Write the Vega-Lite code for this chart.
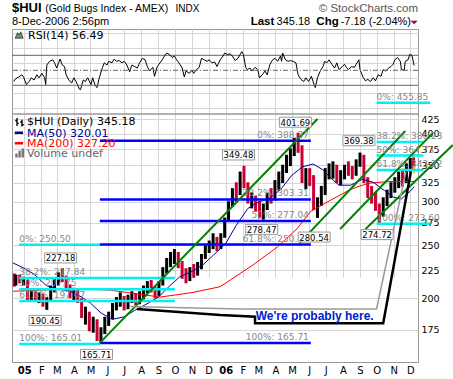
{
"$schema": "https://vega.github.io/schema/vega-lite/v6.json",
"width": 406, "height": 333,
"autosize": {"type": "none"},
"padding": {"left": 12, "top": 29, "right": 35, "bottom": 17},
"background": "white",
"config": {"view": {"stroke": "#999", "strokeWidth": 1}, "font": "DejaVu Sans"},
"datasets": {
"bars": [
{"date":"2004-12-14","lo":210,"hi":222,"op":220,"cl":212},
{"date":"2004-12-17","lo":211,"hi":221,"op":212,"cl":219},
{"date":"2004-12-24","lo":213,"hi":221,"op":219,"cl":215},
{"date":"2004-12-31","lo":211,"hi":219,"op":215,"cl":217},
{"date":"2005-01-07","lo":198,"hi":216,"op":215,"cl":201},
{"date":"2005-01-14","lo":197,"hi":206,"op":201,"cl":203},
{"date":"2005-01-21","lo":198,"hi":206,"op":203,"cl":200},
{"date":"2005-01-28","lo":196,"hi":205,"op":200,"cl":202},
{"date":"2005-02-04","lo":193,"hi":204,"op":202,"cl":196},
{"date":"2005-02-11","lo":190.45,"hi":201,"op":196,"cl":199},
{"date":"2005-02-18","lo":197,"hi":211,"op":199,"cl":209},
{"date":"2005-02-25","lo":205,"hi":218,"op":209,"cl":215},
{"date":"2005-03-04","lo":211,"hi":223,"op":215,"cl":220},
{"date":"2005-03-11","lo":214,"hi":227.18,"op":220,"cl":217},
{"date":"2005-03-18","lo":207,"hi":220,"op":217,"cl":209},
{"date":"2005-03-25","lo":200,"hi":212,"op":209,"cl":203},
{"date":"2005-04-01","lo":198,"hi":209,"op":203,"cl":206},
{"date":"2005-04-08","lo":196,"hi":208,"op":206,"cl":199},
{"date":"2005-04-15","lo":184,"hi":200,"op":199,"cl":186},
{"date":"2005-04-22","lo":179,"hi":193,"op":186,"cl":189},
{"date":"2005-04-29","lo":174,"hi":189,"op":189,"cl":176},
{"date":"2005-05-06","lo":173,"hi":185,"op":176,"cl":182},
{"date":"2005-05-13","lo":167,"hi":183,"op":182,"cl":170},
{"date":"2005-05-20","lo":165.71,"hi":177,"op":170,"cl":175},
{"date":"2005-05-27","lo":172,"hi":185,"op":175,"cl":183},
{"date":"2005-06-03","lo":178,"hi":189,"op":183,"cl":186},
{"date":"2005-06-10","lo":183,"hi":196,"op":186,"cl":194},
{"date":"2005-06-17","lo":190,"hi":201,"op":194,"cl":199},
{"date":"2005-06-24","lo":193,"hi":205,"op":199,"cl":201},
{"date":"2005-07-01","lo":190,"hi":202,"op":201,"cl":194},
{"date":"2005-07-08","lo":191,"hi":203,"op":194,"cl":201},
{"date":"2005-07-15","lo":196,"hi":206,"op":201,"cl":203},
{"date":"2005-07-22","lo":194,"hi":204,"op":203,"cl":197},
{"date":"2005-07-29","lo":195,"hi":206,"op":197,"cl":204},
{"date":"2005-08-05","lo":199,"hi":211,"op":204,"cl":208},
{"date":"2005-08-12","lo":204,"hi":215,"op":208,"cl":212},
{"date":"2005-08-19","lo":205,"hi":216,"op":212,"cl":208},
{"date":"2005-08-26","lo":200,"hi":210,"op":208,"cl":204},
{"date":"2005-09-02","lo":202,"hi":215,"op":204,"cl":213},
{"date":"2005-09-09","lo":211,"hi":228,"op":213,"cl":226},
{"date":"2005-09-16","lo":222,"hi":237,"op":226,"cl":234},
{"date":"2005-09-23","lo":228,"hi":243,"op":234,"cl":238},
{"date":"2005-09-30","lo":231,"hi":246,"op":238,"cl":242},
{"date":"2005-10-07","lo":227,"hi":243,"op":242,"cl":231},
{"date":"2005-10-14","lo":217,"hi":234,"op":231,"cl":221},
{"date":"2005-10-21","lo":213,"hi":227,"op":221,"cl":218},
{"date":"2005-10-28","lo":215,"hi":228,"op":218,"cl":225},
{"date":"2005-11-04","lo":218,"hi":231,"op":225,"cl":222},
{"date":"2005-11-11","lo":220,"hi":233,"op":222,"cl":230},
{"date":"2005-11-18","lo":226,"hi":241,"op":230,"cl":239},
{"date":"2005-11-25","lo":236,"hi":250,"op":239,"cl":247},
{"date":"2005-12-02","lo":242,"hi":255,"op":247,"cl":251},
{"date":"2005-12-09","lo":246,"hi":263,"op":251,"cl":258},
{"date":"2005-12-16","lo":244,"hi":259,"op":258,"cl":248},
{"date":"2005-12-23","lo":246,"hi":263,"op":248,"cl":261},
{"date":"2005-12-30","lo":258,"hi":281,"op":261,"cl":279},
{"date":"2006-01-06","lo":276,"hi":301,"op":279,"cl":298},
{"date":"2006-01-13","lo":294,"hi":318,"op":298,"cl":314},
{"date":"2006-01-20","lo":300,"hi":326,"op":314,"cl":309},
{"date":"2006-01-27","lo":309,"hi":341,"op":309,"cl":338},
{"date":"2006-02-03","lo":318,"hi":349.48,"op":338,"cl":322},
{"date":"2006-02-10","lo":298,"hi":326,"op":322,"cl":302},
{"date":"2006-02-17","lo":292,"hi":313,"op":302,"cl":305},
{"date":"2006-02-24","lo":288,"hi":308,"op":305,"cl":294},
{"date":"2006-03-03","lo":280,"hi":301,"op":294,"cl":285},
{"date":"2006-03-10","lo":278.47,"hi":298,"op":285,"cl":295},
{"date":"2006-03-17","lo":290,"hi":312,"op":295,"cl":308},
{"date":"2006-03-24","lo":298,"hi":318,"op":308,"cl":303},
{"date":"2006-03-31","lo":302,"hi":329,"op":303,"cl":325},
{"date":"2006-04-07","lo":315,"hi":341,"op":325,"cl":333},
{"date":"2006-04-14","lo":325,"hi":351,"op":333,"cl":346},
{"date":"2006-04-21","lo":339,"hi":366,"op":346,"cl":358},
{"date":"2006-04-28","lo":349,"hi":376,"op":358,"cl":370},
{"date":"2006-05-05","lo":364,"hi":393,"op":370,"cl":388},
{"date":"2006-05-12","lo":369,"hi":401.69,"op":388,"cl":374},
{"date":"2006-05-19","lo":325,"hi":381,"op":374,"cl":334},
{"date":"2006-05-26","lo":317,"hi":346,"op":334,"cl":339},
{"date":"2006-06-02","lo":321,"hi":346,"op":339,"cl":330},
{"date":"2006-06-09","lo":290,"hi":336,"op":330,"cl":298},
{"date":"2006-06-16","lo":280.54,"hi":306,"op":298,"cl":303},
{"date":"2006-06-23","lo":295,"hi":321,"op":303,"cl":313},
{"date":"2006-06-30","lo":309,"hi":346,"op":313,"cl":341},
{"date":"2006-07-07","lo":330,"hi":353,"op":341,"cl":346},
{"date":"2006-07-14","lo":331,"hi":356,"op":346,"cl":350},
{"date":"2006-07-21","lo":325,"hi":351,"op":350,"cl":332},
{"date":"2006-07-28","lo":322,"hi":343,"op":332,"cl":337},
{"date":"2006-08-04","lo":330,"hi":351,"op":337,"cl":346},
{"date":"2006-08-11","lo":335,"hi":356,"op":346,"cl":340},
{"date":"2006-08-18","lo":330,"hi":349,"op":340,"cl":338},
{"date":"2006-08-25","lo":335,"hi":359,"op":338,"cl":353},
{"date":"2006-09-01","lo":348,"hi":369.38,"op":353,"cl":362},
{"date":"2006-09-08","lo":325,"hi":366,"op":362,"cl":330},
{"date":"2006-09-15","lo":305,"hi":333,"op":330,"cl":311},
{"date":"2006-09-22","lo":298,"hi":321,"op":311,"cl":305},
{"date":"2006-09-29","lo":289,"hi":313,"op":305,"cl":294},
{"date":"2006-10-06","lo":274.72,"hi":298,"op":294,"cl":285},
{"date":"2006-10-13","lo":282,"hi":306,"op":285,"cl":301},
{"date":"2006-10-20","lo":295,"hi":316,"op":301,"cl":310},
{"date":"2006-10-27","lo":305,"hi":326,"op":310,"cl":321},
{"date":"2006-11-03","lo":312,"hi":333,"op":321,"cl":327},
{"date":"2006-11-10","lo":318,"hi":341,"op":327,"cl":336},
{"date":"2006-11-17","lo":320,"hi":345,"op":336,"cl":326},
{"date":"2006-11-24","lo":325,"hi":353,"op":326,"cl":349},
{"date":"2006-12-01","lo":340,"hi":361,"op":349,"cl":356},
{"date":"2006-12-07","lo":342,"hi":362,"op":356,"cl":345.18}
],
"ma50": [
{"date":"2004-12-12","v":232},{"date":"2005-01-01","v":227},{"date":"2005-01-20","v":221},{"date":"2005-02-10","v":211},
{"date":"2005-03-01","v":208},{"date":"2005-03-25","v":206},{"date":"2005-04-15","v":201},{"date":"2005-05-01","v":196},
{"date":"2005-05-20","v":188},{"date":"2005-06-10","v":183},{"date":"2005-07-01","v":185},{"date":"2005-07-20","v":190},
{"date":"2005-08-10","v":195},{"date":"2005-09-01","v":201},{"date":"2005-09-20","v":210},{"date":"2005-10-10","v":219},
{"date":"2005-11-01","v":224},{"date":"2005-11-20","v":230},{"date":"2005-12-10","v":240},{"date":"2006-01-01","v":252},
{"date":"2006-01-20","v":272},{"date":"2006-02-10","v":292},{"date":"2006-03-01","v":300},{"date":"2006-03-20","v":304},
{"date":"2006-04-10","v":316},{"date":"2006-05-01","v":336},{"date":"2006-05-20","v":348},{"date":"2006-06-08","v":352},
{"date":"2006-06-25","v":344},{"date":"2006-07-10","v":332},{"date":"2006-07-25","v":322},{"date":"2006-08-15","v":322},
{"date":"2006-09-05","v":330},{"date":"2006-09-25","v":326},{"date":"2006-10-15","v":315},{"date":"2006-11-01","v":306},
{"date":"2006-11-15","v":304},{"date":"2006-12-01","v":314},{"date":"2006-12-08","v":320.01}
],
"ma200": [
{"date":"2004-12-12","v":206},{"date":"2005-02-04","v":207},{"date":"2005-04-07","v":208},{"date":"2005-06-05","v":207},
{"date":"2005-08-04","v":203},{"date":"2005-09-04","v":201},{"date":"2005-10-05","v":203},{"date":"2005-11-03","v":205},
{"date":"2005-12-22","v":210},{"date":"2006-02-19","v":230},{"date":"2006-04-04","v":248},{"date":"2006-05-10","v":268},
{"date":"2006-06-03","v":288},{"date":"2006-07-09","v":302},{"date":"2006-08-14","v":316},{"date":"2006-09-01","v":321},
{"date":"2006-09-19","v":325},{"date":"2006-10-25","v":327},{"date":"2006-12-08","v":327.2}
],
"rsi": [
{"date":"2004-12-13","rsi":35},{"date":"2004-12-17","rsi":39},{"date":"2004-12-22","rsi":41},{"date":"2004-12-28","rsi":44},
{"date":"2004-12-31","rsi":41},{"date":"2005-01-05","rsi":31},{"date":"2005-01-10","rsi":35},{"date":"2005-01-14","rsi":40},
{"date":"2005-01-19","rsi":37},{"date":"2005-01-24","rsi":44},{"date":"2005-01-28","rsi":40},{"date":"2005-02-02","rsi":46},
{"date":"2005-02-07","rsi":40},{"date":"2005-02-09","rsi":31},{"date":"2005-02-11","rsi":57},{"date":"2005-02-16","rsi":62},
{"date":"2005-02-22","rsi":64},{"date":"2005-02-25","rsi":60},{"date":"2005-03-01","rsi":53},{"date":"2005-03-07","rsi":65},
{"date":"2005-03-11","rsi":57},{"date":"2005-03-15","rsi":55},{"date":"2005-03-18","rsi":44},{"date":"2005-03-23","rsi":37},
{"date":"2005-03-28","rsi":33},{"date":"2005-04-01","rsi":40},{"date":"2005-04-05","rsi":35},{"date":"2005-04-11","rsi":25},
{"date":"2005-04-13","rsi":24},{"date":"2005-04-18","rsi":37},{"date":"2005-04-22","rsi":35},{"date":"2005-04-26","rsi":40},
{"date":"2005-05-02","rsi":31},{"date":"2005-05-05","rsi":40},{"date":"2005-05-10","rsi":29},{"date":"2005-05-13","rsi":27},
{"date":"2005-05-17","rsi":40},{"date":"2005-05-23","rsi":54},{"date":"2005-05-26","rsi":60},{"date":"2005-05-31","rsi":57},
{"date":"2005-06-03","rsi":62},{"date":"2005-06-09","rsi":60},{"date":"2005-06-13","rsi":65},{"date":"2005-06-17","rsi":62},
{"date":"2005-06-22","rsi":63},{"date":"2005-06-27","rsi":60},{"date":"2005-07-01","rsi":62},{"date":"2005-07-06","rsi":57},
{"date":"2005-07-11","rsi":48},{"date":"2005-07-15","rsi":57},{"date":"2005-07-20","rsi":55},{"date":"2005-07-25","rsi":53},
{"date":"2005-07-29","rsi":60},{"date":"2005-08-03","rsi":66},{"date":"2005-08-08","rsi":64},{"date":"2005-08-12","rsi":55},
{"date":"2005-08-16","rsi":49},{"date":"2005-08-22","rsi":54},{"date":"2005-08-25","rsi":42},{"date":"2005-08-30","rsi":55},
{"date":"2005-09-02","rsi":58},{"date":"2005-09-08","rsi":64},{"date":"2005-09-12","rsi":69},{"date":"2005-09-16","rsi":73},
{"date":"2005-09-21","rsi":71},{"date":"2005-09-26","rsi":67},{"date":"2005-09-30","rsi":69},{"date":"2005-10-04","rsi":64},
{"date":"2005-10-10","rsi":58},{"date":"2005-10-14","rsi":53},{"date":"2005-10-18","rsi":41},{"date":"2005-10-21","rsi":49},
{"date":"2005-10-27","rsi":46},{"date":"2005-11-01","rsi":50},{"date":"2005-11-04","rsi":46},{"date":"2005-11-09","rsi":51},
{"date":"2005-11-14","rsi":54},{"date":"2005-11-18","rsi":66},{"date":"2005-11-23","rsi":64},{"date":"2005-11-28","rsi":62},
{"date":"2005-12-02","rsi":64},{"date":"2005-12-07","rsi":60},{"date":"2005-12-12","rsi":61},{"date":"2005-12-16","rsi":55},
{"date":"2005-12-22","rsi":64},{"date":"2005-12-27","rsi":69},{"date":"2005-12-30","rsi":73},{"date":"2006-01-04","rsi":71},
{"date":"2006-01-09","rsi":72},{"date":"2006-01-13","rsi":69},{"date":"2006-01-18","rsi":63},{"date":"2006-01-23","rsi":66},
{"date":"2006-01-27","rsi":71},{"date":"2006-01-30","rsi":75},{"date":"2006-02-02","rsi":71},{"date":"2006-02-06","rsi":54},
{"date":"2006-02-09","rsi":51},{"date":"2006-02-14","rsi":53},{"date":"2006-02-17","rsi":49},{"date":"2006-02-23","rsi":54},
{"date":"2006-02-28","rsi":51},{"date":"2006-03-03","rsi":40},{"date":"2006-03-08","rsi":44},{"date":"2006-03-13","rsi":49},
{"date":"2006-03-17","rsi":44},{"date":"2006-03-22","rsi":58},{"date":"2006-03-27","rsi":64},{"date":"2006-03-31","rsi":66},
{"date":"2006-04-05","rsi":62},{"date":"2006-04-10","rsi":69},{"date":"2006-04-12","rsi":62},{"date":"2006-04-14","rsi":73},
{"date":"2006-04-19","rsi":64},{"date":"2006-04-24","rsi":62},{"date":"2006-04-28","rsi":63},{"date":"2006-05-03","rsi":62},
{"date":"2006-05-08","rsi":60},{"date":"2006-05-12","rsi":44},{"date":"2006-05-17","rsi":38},{"date":"2006-05-22","rsi":35},
{"date":"2006-05-26","rsi":40},{"date":"2006-05-31","rsi":35},{"date":"2006-06-05","rsi":42},{"date":"2006-06-09","rsi":33},
{"date":"2006-06-12","rsi":27},{"date":"2006-06-16","rsi":40},{"date":"2006-06-21","rsi":49},{"date":"2006-06-26","rsi":55},
{"date":"2006-06-29","rsi":62},{"date":"2006-07-03","rsi":60},{"date":"2006-07-07","rsi":64},{"date":"2006-07-12","rsi":58},
{"date":"2006-07-17","rsi":53},{"date":"2006-07-21","rsi":60},{"date":"2006-07-25","rsi":51},{"date":"2006-07-31","rsi":55},
{"date":"2006-08-04","rsi":58},{"date":"2006-08-08","rsi":53},{"date":"2006-08-11","rsi":51},{"date":"2006-08-17","rsi":55},
{"date":"2006-08-22","rsi":54},{"date":"2006-08-25","rsi":58},{"date":"2006-08-30","rsi":64},{"date":"2006-09-01","rsi":51},
{"date":"2006-09-07","rsi":40},{"date":"2006-09-11","rsi":36},{"date":"2006-09-15","rsi":38},{"date":"2006-09-20","rsi":35},
{"date":"2006-09-25","rsi":40},{"date":"2006-09-29","rsi":36},{"date":"2006-10-04","rsi":44},{"date":"2006-10-09","rsi":42},
{"date":"2006-10-13","rsi":51},{"date":"2006-10-17","rsi":49},{"date":"2006-10-23","rsi":53},{"date":"2006-10-27","rsi":55},
{"date":"2006-10-31","rsi":58},{"date":"2006-11-03","rsi":64},{"date":"2006-11-08","rsi":67},{"date":"2006-11-13","rsi":62},
{"date":"2006-11-15","rsi":51},{"date":"2006-11-20","rsi":50},{"date":"2006-11-22","rsi":62},{"date":"2006-11-27","rsi":64},
{"date":"2006-11-30","rsi":71},{"date":"2006-12-04","rsi":70},{"date":"2006-12-08","rsi":56.49}
],
"fibCyanL": [
{"date":"2004-12-23","end":"2005-05-18","level":250.50,"label":"0%: 250.50"},
{"date":"2004-12-23","end":"2005-10-01","level":217.84,"label":"38.2%: 217.84"},
{"date":"2004-12-23","end":"2005-10-01","level":207.75,"label":"50%: 207.75"},
{"date":"2004-12-23","end":"2005-10-01","level":197.67,"label":"61.8%: 197.67"},
{"date":"2004-12-23","end":"2005-05-18","level":165.01,"label":"100%: 165.01"}
],
"fibBlue": [
{"date":"2005-05-18","end":"2006-06-04","level":388.37,"label":"0%: 388.37"},
{"date":"2005-05-18","end":"2006-06-04","level":303.31,"label":"38.2%: 303.31"},
{"date":"2005-05-18","end":"2006-06-04","level":277.04,"label":"50%: 277.04"},
{"date":"2005-05-18","end":"2006-06-04","level":250.73,"label":"61.8%: 250.73"},
{"date":"2005-05-18","end":"2006-06-04","level":165.71,"label":"100%: 165.71"}
],
"fibCyanR": [
{"date":"2006-10-01","end":"2007-01-06","level":455.85,"label":"0%: 455.85"},
{"date":"2006-10-01","end":"2006-12-25","level":386.23,"label":"38.2%: 386.23"},
{"date":"2006-10-01","end":"2006-12-25","level":364.73,"label":"50%: 364.73"},
{"date":"2006-10-01","end":"2006-12-25","level":343.22,"label":"61.8%: 343.22"},
{"date":"2006-10-01","end":"2007-01-06","level":273.60,"label":"100%: 273.60"}
],
"trend": [
{"id":1,"date":"2005-05-18","price":165.7},{"id":1,"date":"2006-06-16","price":425.5},
{"id":2,"date":"2006-05-15","price":252.5},{"id":2,"date":"2006-11-22","price":404.6},
{"id":3,"date":"2006-07-27","price":267.8},{"id":3,"date":"2007-01-11","price":401.3},
{"id":4,"date":"2006-09-11","price":267.8},{"id":4,"date":"2007-02-16","price":381.5}
],
"callBlack": [
{"i":1,"date":"2005-07-24","price":191.2},{"i":2,"date":"2005-12-22","price":186.4},
{"i":3,"date":"2006-02-23","price":185.1},{"i":4,"date":"2006-02-23","price":180.0},
{"i":5,"date":"2006-10-13","price":180.0},{"i":6,"date":"2006-12-02","price":340.4}
],
"callGray": [
{"i":1,"date":"2005-07-12","price":193.1},{"i":2,"date":"2006-01-27","price":191.2},
{"i":3,"date":"2006-10-01","price":191.2},{"i":4,"date":"2006-11-23","price":340.4}
],
"peaks": [
{"date":"2006-05-07","price":419.8,"text":"401.69"},
{"date":"2006-01-24","price":365.7,"text":"349.48"},
{"date":"2006-08-30","price":388.3,"text":"369.38"},
{"date":"2006-03-07","price":267.3,"text":"278.47"},
{"date":"2006-06-10","price":258.8,"text":"280.54"},
{"date":"2006-10-02","price":261.5,"text":"274.72"},
{"date":"2005-03-08","price":237.0,"text":"227.18"},
{"date":"2005-02-08","price":182.2,"text":"190.45"},
{"date":"2005-05-12","price":157.9,"text":"165.71"}
]
},
"layer": [
{
"layer": [
{
"data": {"name": "bars"},
"mark": {"type": "rule", "strokeWidth": 3, "clip": false},
"encoding": {
"x": {"field": "date", "type": "temporal", "title": null,
"scale": {"type": "time", "nice": false, "domain": [{"year":2004,"month":12,"date":10},{"year":2006,"month":12,"date":15}]},
"axis": {
"tickCount": {"interval": "month", "step": 1},
"labelExpr": "month(datum.value) == 0 ? timeFormat(datum.value, '%y') : slice(timeFormat(datum.value, '%b'), 0, 1)",
"labelFontWeight": {"condition": {"test": "month(datum.value) == 0", "value": "bold"}, "value": "normal"},
"labelFontSize": 10,
"labelFont": "DejaVu Sans", "labelColor": "#000", "labelPadding": 3, "labelOverlap": false, "labelFlush": false,
"ticks": false, "domain": false, "grid": true, "gridColor": "#d6d6d6", "title": null}},
"y": {"field": "lo", "type": "quantitative", "title": null,
"scale": {"type": "log", "domain": [152.9, 434.6], "range": [333, 85], "nice": false},
"axis": {"orient": "right", "values": [175,200,225,250,275,300,325,350,375,400,425], "format": "d", "grid": true, "gridColor": "#d6d6d6", "ticks": false, "domain": false, "labelPadding": 3, "labelFontSize": 9.5, "labelFont": "DejaVu Sans", "labelColor": "#000", "labelOverlap": false, "title": null}},
"y2": {"field": "hi"},
"color": {"condition": {"test": "datum.cl < datum.op", "value": "#cc0033"}, "value": "#000000"}
}
},
{
"data": {"values": [{"date":"2006-12-08","lo":338,"hi":350}]},
"mark": {"type": "rule", "strokeWidth": 2, "color": "#ffcc00", "clip": false},
"encoding": {"x": {"field": "date", "type": "temporal", "title": null}, "y": {"field": "lo", "type": "quantitative", "title": null}, "y2": {"field": "hi"}}
},
{
"data": {"name": "ma200"},
"mark": {"type": "line", "color": "#ff0000", "strokeWidth": 1, "clip": false},
"encoding": {"x": {"field": "date", "type": "temporal", "title": null}, "y": {"field": "v", "type": "quantitative", "title": null}}
},
{
"data": {"name": "ma50"},
"mark": {"type": "line", "color": "#000099", "strokeWidth": 1, "clip": false},
"encoding": {"x": {"field": "date", "type": "temporal", "title": null}, "y": {"field": "v", "type": "quantitative", "title": null}}
},
{
"data": {"name": "fibCyanL"},
"mark": {"type": "rule", "color": "#00f0f0", "strokeWidth": 2.5, "clip": false},
"encoding": {"x": {"field": "date", "type": "temporal", "title": null}, "x2": {"field": "end"}, "y": {"field": "level", "type": "quantitative", "title": null}}
},
{
"data": {"name": "fibBlue"},
"mark": {"type": "rule", "color": "#0000ff", "strokeWidth": 2.5, "clip": false},
"encoding": {"x": {"field": "date", "type": "temporal", "title": null}, "x2": {"field": "end"}, "y": {"field": "level", "type": "quantitative", "title": null}}
},
{
"data": {"name": "fibCyanR"},
"mark": {"type": "rule", "color": "#00f0f0", "strokeWidth": 2.5, "clip": false},
"encoding": {"x": {"field": "date", "type": "temporal", "title": null}, "x2": {"field": "end"}, "y": {"field": "level", "type": "quantitative", "title": null}}
},
{
"data": {"name": "trend"},
"mark": {"type": "line", "color": "#008000", "strokeWidth": 2, "clip": false},
"encoding": {"x": {"field": "date", "type": "temporal", "title": null}, "y": {"field": "price", "type": "quantitative", "title": null}, "detail": {"field": "id"}}
},
{
"data": {"name": "fibCyanL"},
"mark": {"type": "text", "align": "left", "baseline": "alphabetic", "dy": -3, "fontSize": 9, "font": "DejaVu Sans", "color": "#888", "clip": false},
"encoding": {"x": {"field": "date", "type": "temporal", "title": null}, "y": {"field": "level", "type": "quantitative", "title": null}, "text": {"field": "label"}}
},
{
"data": {"name": "fibBlue"},
"mark": {"type": "text", "align": "right", "baseline": "alphabetic", "dy": -3, "dx": -2, "fontSize": 9, "font": "DejaVu Sans", "color": "#888", "clip": false},
"encoding": {"x": {"field": "end", "type": "temporal", "title": null}, "y": {"field": "level", "type": "quantitative", "title": null}, "text": {"field": "label"}}
},
{
"data": {"name": "fibCyanR"},
"mark": {"type": "text", "align": "left", "baseline": "alphabetic", "dy": -3, "fontSize": 9, "font": "DejaVu Sans", "color": "#888", "clip": false},
"encoding": {"x": {"field": "date", "type": "temporal", "title": null}, "y": {"field": "level", "type": "quantitative", "title": null}, "text": {"field": "label"}}
},
{
"data": {"values": [{"date":"2006-02-23","end":"2006-10-13","price":180.5,"top":190.8}]},
"mark": {"type": "rect", "color": "white", "clip": false},
"encoding": {"x": {"field": "date", "type": "temporal", "title": null}, "x2": {"field": "end"}, "y": {"field": "price", "type": "quantitative", "title": null}, "y2": {"field": "top"}}
},
{
"data": {"name": "callGray"},
"mark": {"type": "line", "color": "#999", "strokeWidth": 1.5, "clip": false},
"encoding": {"x": {"field": "date", "type": "temporal", "title": null}, "y": {"field": "price", "type": "quantitative", "title": null}, "order": {"field": "i"}}
},
{
"data": {"name": "callBlack"},
"mark": {"type": "line", "color": "#000", "strokeWidth": 2.5, "clip": false},
"encoding": {"x": {"field": "date", "type": "temporal", "title": null}, "y": {"field": "price", "type": "quantitative", "title": null}, "order": {"field": "i"}}
},
{
"data": {"values": [{"date":"2006-06-11","price":182.2,"text":"We're probably here."}]},
"mark": {"type": "text", "align": "center", "baseline": "alphabetic", "font": "Liberation Sans", "fontSize": 12, "fontWeight": "bold", "color": "#0022cc", "clip": false},
"encoding": {"x": {"field": "date", "type": "temporal", "title": null}, "y": {"field": "price", "type": "quantitative", "title": null}, "text": {"field": "text"}}
},
{
"data": {"name": "peaks"},
"mark": {"type": "point", "shape": "M-1.6,-0.5H1.6V0.5H-1.6Z", "size": 400, "filled": true, "fill": "white", "stroke": "#999", "strokeWidth": 1, "opacity": 1, "clip": false},
"encoding": {"x": {"field": "date", "type": "temporal", "title": null}, "y": {"field": "price", "type": "quantitative", "title": null}}
},
{
"data": {"name": "peaks"},
"mark": {"type": "text", "align": "center", "baseline": "middle", "dy": 0.5, "fontSize": 8.5, "font": "DejaVu Sans", "color": "#000", "clip": false},
"encoding": {"x": {"field": "date", "type": "temporal", "title": null}, "y": {"field": "price", "type": "quantitative", "title": null}, "text": {"field": "text"}}
},
{
"data": {"values": [{"date":"2005-01-06","price":414.9,"text":"$HUI (Daily) 345.18"}]},
"mark": {"type": "text", "align": "left", "baseline": "alphabetic", "fontSize": 11, "font": "DejaVu Sans", "color": "#000", "clip": false},
"encoding": {"x": {"field": "date", "type": "temporal", "title": null}, "y": {"field": "price", "type": "quantitative", "title": null}, "text": {"field": "text"}}
},
{
"data": {"values": [{"date":"2005-01-06","price":395.3,"text":"MA(50) 320.01"}]},
"mark": {"type": "text", "align": "left", "baseline": "alphabetic", "fontSize": 11, "font": "DejaVu Sans", "color": "#000099", "clip": false},
"encoding": {"x": {"field": "date", "type": "temporal", "title": null}, "y": {"field": "price", "type": "quantitative", "title": null}, "text": {"field": "text"}}
},
{
"data": {"values": [{"date":"2005-01-06","price":378.2,"text":"MA(200) 327.20"}]},
"mark": {"type": "text", "align": "left", "baseline": "alphabetic", "fontSize": 11, "font": "DejaVu Sans", "color": "#ff0000", "clip": false},
"encoding": {"x": {"field": "date", "type": "temporal", "title": null}, "y": {"field": "price", "type": "quantitative", "title": null}, "text": {"field": "text"}}
},
{
"data": {"values": [{"date":"2005-01-06","price":362.6,"text":"Volume undef"}]},
"mark": {"type": "text", "align": "left", "baseline": "alphabetic", "fontSize": 11, "font": "DejaVu Sans", "color": "#666", "clip": false},
"encoding": {"x": {"field": "date", "type": "temporal", "title": null}, "y": {"field": "price", "type": "quantitative", "title": null}, "text": {"field": "text"}}
},
{
"data": {"values": [{"date":"2004-12-15","end":"2004-12-30","level":401.6}]},
"mark": {"type": "rule", "color": "#000099", "strokeWidth": 2.5, "clip": false},
"encoding": {"x": {"field": "date", "type": "temporal", "title": null}, "x2": {"field": "end"}, "y": {"field": "level", "type": "quantitative", "title": null}}
},
{
"data": {"values": [{"date":"2004-12-15","end":"2004-12-30","level":384.2}]},
"mark": {"type": "rule", "color": "#ff0000", "strokeWidth": 2.5, "clip": false},
"encoding": {"x": {"field": "date", "type": "temporal", "title": null}, "x2": {"field": "end"}, "y": {"field": "level", "type": "quantitative", "title": null}}
},
{
"data": {"values": [{"date":"2004-12-24","price":420.2}]},
"mark": {"type": "point", "shape": "M-0.6,-0.9V0.9M-0.6,-0.3H-1M-0.6,0.3H-0.2M0.5,-0.5V1M0.5,0H0.1M0.5,0.6H0.9", "size": 81, "filled": false, "stroke": "#000", "strokeWidth": 1.4, "opacity": 1, "clip": false},
"encoding": {"x": {"field": "date", "type": "temporal", "title": null}, "y": {"field": "price", "type": "quantitative", "title": null}}
},
{
"data": {"values": [{"date":"2004-12-24","price":368.8}]},
"mark": {"type": "point", "shape": "M-1,1V0.1H-0.45V1ZM-0.3,1V-0.5H0.25V1ZM0.4,1V-1H0.95V1Z", "size": 81, "filled": true, "fill": "#777", "strokeWidth": 0, "opacity": 1, "clip": false},
"encoding": {"x": {"field": "date", "type": "temporal", "title": null}, "y": {"field": "price", "type": "quantitative", "title": null}}
},
{
"data": {"values": [{}]},
"mark": {"type": "rule", "color": "#999", "strokeWidth": 1.5},
"encoding": {"y": {"datum": 434.6}}
}
]
},
{
"layer": [
{
"data": {"values": [{}]},
"mark": {"type": "rule", "color": "#666", "strokeWidth": 1},
"encoding": {"y": {"datum": 70, "type": "quantitative"}}
},
{
"data": {"name": "rsi"},
"mark": {"type": "line", "color": "#000", "strokeWidth": 1, "clip": false},
"encoding": {"x": {"field": "date", "type": "temporal", "title": null},
"y": {"field": "rsi", "type": "quantitative", "title": null,
"scale": {"domain": [-8.27, 105.07], "range": [85, 0], "nice": false, "zero": false},
"axis": {"orient": "right", "values": [0,10,20,30,40,50,60,70,80,90,100], "labelExpr": "datum.value % 20 == 10 ? datum.label : ''", "grid": true, "gridColor": "#d6d6d6", "ticks": false, "domain": false, "labelPadding": 3, "labelFontSize": 9.5, "labelFont": "DejaVu Sans", "labelColor": "#000", "title": null}}}
},
{
"data": {"values": [{}]},
"mark": {"type": "rule", "color": "#666", "strokeWidth": 1},
"encoding": {"y": {"datum": 30, "type": "quantitative"}}
},
{
"data": {"values": [{}]},
"mark": {"type": "rule", "color": "#666", "strokeWidth": 1, "strokeDash": [5, 2, 1, 2]},
"encoding": {"y": {"datum": 50, "type": "quantitative"}}
},
{
"data": {"values": [{"date":"2004-12-10","rsi":127.7,"text":"$HUI"}]},
"mark": {"type": "text", "align": "left", "baseline": "alphabetic", "font": "Liberation Sans", "fontSize": 13, "fontWeight": "bold", "color": "#000", "clip": false},
"encoding": {"x": {"field": "date", "type": "temporal", "title": null}, "y": {"field": "rsi", "type": "quantitative", "title": null}, "text": {"field": "text"}}
},
{
"data": {"values": [
{"date":"2005-02-08","rsi":127.7,"text":"(Gold Bugs Index - AMEX)"}
]},
"mark": {"type": "text", "align": "left", "baseline": "alphabetic", "font": "Liberation Sans", "fontSize": 10.5, "color": "#000", "clip": false},
"encoding": {"x": {"field": "date", "type": "temporal", "title": null}, "y": {"field": "rsi", "type": "quantitative", "title": null}, "text": {"field": "text"}}
},
{
"data": {"values": [
{"date":"2004-12-10","rsi":111.0,"text":"8-Dec-2006 2:56pm"},
{"date":"2006-04-03","rsi":111.0,"text":"345.18"},
{"date":"2006-07-28","rsi":111.0,"text":"-7.18 (-2.04%)"}
]},
"mark": {"type": "text", "align": "left", "baseline": "alphabetic", "font": "Liberation Sans", "fontSize": 11, "color": "#000", "clip": false},
"encoding": {"x": {"field": "date", "type": "temporal", "title": null}, "y": {"field": "rsi", "type": "quantitative", "title": null}, "text": {"field": "text"}}
},
{
"data": {"values": [{"date":"2005-10-02","rsi":127.7,"text":"INDX"}]},
"mark": {"type": "text", "align": "left", "baseline": "alphabetic", "font": "Liberation Sans", "fontSize": 10, "color": "#000", "clip": false},
"encoding": {"x": {"field": "date", "type": "temporal", "title": null}, "y": {"field": "rsi", "type": "quantitative", "title": null}, "text": {"field": "text"}}
},
{
"data": {"values": [
{"date":"2006-02-15","rsi":111.0,"text":"Last"},
{"date":"2006-06-14","rsi":111.0,"text":"Chg"}
]},
"mark": {"type": "text", "align": "left", "baseline": "alphabetic", "font": "Liberation Sans", "fontSize": 11.5, "fontWeight": "bold", "color": "#000", "clip": false},
"encoding": {"x": {"field": "date", "type": "temporal", "title": null}, "y": {"field": "rsi", "type": "quantitative", "title": null}, "text": {"field": "text"}}
},
{
"data": {"values": [{"date":"2006-12-15","rsi":128.4,"text":"© StockCharts.com"}]},
"mark": {"type": "text", "align": "right", "baseline": "alphabetic", "font": "Liberation Sans", "fontSize": 11.5, "color": "#555", "clip": false},
"encoding": {"x": {"field": "date", "type": "temporal", "title": null}, "y": {"field": "rsi", "type": "quantitative", "title": null}, "text": {"field": "text"}}
},
{
"data": {"values": [{"date":"2006-12-08","rsi":113.7}]},
"mark": {"type": "point", "shape": "M-1,-0.5L1,-0.5L0,0.5Z", "size": 49, "filled": true, "fill": "#990033", "strokeWidth": 0, "opacity": 1, "clip": false},
"encoding": {"x": {"field": "date", "type": "temporal", "title": null}, "y": {"field": "rsi", "type": "quantitative", "title": null}}
},
{
"data": {"values": [{"date":"2004-12-23","rsi":97.1}]},
"mark": {"type": "point", "shape": "M-1,0.8L-0.4,-0.6L0,0L0.4,-0.8L1,0.8Z", "size": 64, "filled": true, "fill": "#669966", "stroke": "#333", "strokeWidth": 0.8, "opacity": 1, "clip": false},
"encoding": {"x": {"field": "date", "type": "temporal", "title": null}, "y": {"field": "rsi", "type": "quantitative", "title": null}}
},
{
"data": {"values": [{"date":"2005-01-08","rsi":92.4,"text":"RSI(14) 56.49"}]},
"mark": {"type": "text", "align": "left", "baseline": "alphabetic", "font": "DejaVu Sans", "fontSize": 11, "color": "#000", "clip": false},
"encoding": {"x": {"field": "date", "type": "temporal", "title": null}, "y": {"field": "rsi", "type": "quantitative", "title": null}, "text": {"field": "text"}}
}
]
}
],
"resolve": {"scale": {"y": "independent"}, "axis": {"y": "independent"}}
}
